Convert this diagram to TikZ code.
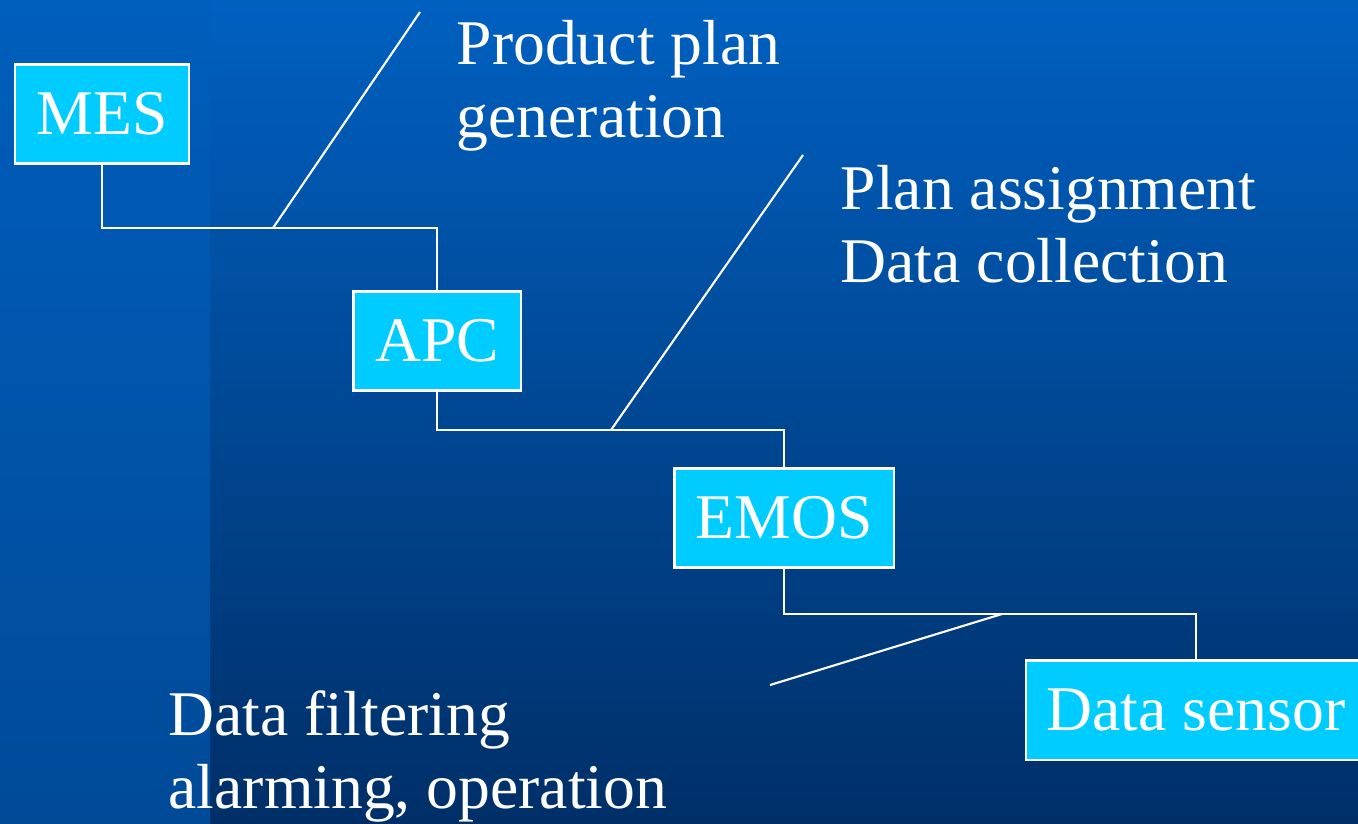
\documentclass[tikz,border=0pt]{standalone}
\usepackage{fontspec}
\setmainfont{Liberation Serif}
\definecolor{bgtop}{HTML}{0060C0}
\definecolor{bgbot}{HTML}{002F68}
\definecolor{striptop}{HTML}{005EBC}
\definecolor{stripbot}{HTML}{004A98}
\definecolor{boxcyan}{HTML}{00CCFF}
\tikzset{
  level/.style={draw=white,line width=0.6pt,fill=boxcyan,text=white,minimum height=0.99cm,inner sep=0pt},
  task/.style={text=white,align=left,anchor=base west,inner sep=0pt},
  wire/.style={draw=white,line width=0.6pt}
}
\begin{document}
\begin{tikzpicture}[x=0.01cm,y=-0.01cm,font=\fontsize{18.1pt}{20.5pt}\selectfont]
\useasboundingbox(0,0)rectangle(1358,823);
\shade[top color=bgtop,bottom color=bgbot](0,0)rectangle(1358,823);
\shade[top color=striptop,bottom color=stripbot](0,0)rectangle(210,823);
% levels
\node[level,minimum width=1.74cm](mes)at(102,114){MES};
\node[level,minimum width=1.67cm](apc)at(437,341){APC};
\node[level,minimum width=2.19cm](emos)at(784,518){EMOS};
\node[level,minimum width=3.40cm](sensor)at(1196,710){Data sensor};
% tasks (base = last line)
\node[task](plan)at(456,137){Product plan\\generation};
\node[task](assign)at(840,282){Plan assignment\\Data collection};
\node[task](filter)at(168,808){Data filtering\\alarming, operation};
% junctions and free ends
\coordinate(j1)at(273,228);\coordinate(t1)at(420,12);
\coordinate(j2)at(611,430);\coordinate(t2)at(803,155);
\coordinate(j3)at(1002,614);\coordinate(t3)at(770,685);
\draw[wire](mes.south)|-(j1)-|(apc.north);
\draw[wire](apc.south)|-(j2)-|(emos.north);
\draw[wire](emos.south)|-(j3)-|(sensor.north);
\draw[wire](j1)--(t1);
\draw[wire](j2)--(t2);
\draw[wire](j3)--(t3);
\end{tikzpicture}
\end{document}
